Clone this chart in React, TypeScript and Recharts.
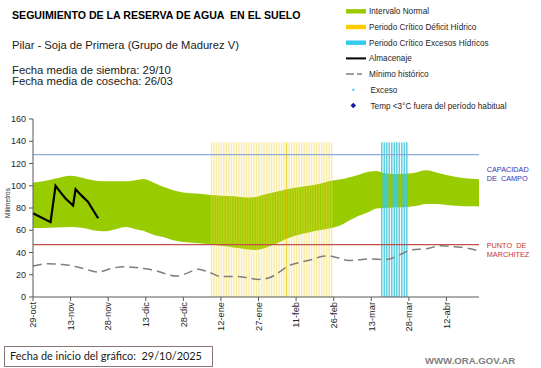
import React from "react";
import {
  Area,
  Bar,
  Cell,
  ComposedChart,
  Line,
  ReferenceLine,
  XAxis,
  YAxis,
} from "recharts";

const FONT = "'Liberation Sans', Arial, sans-serif";

// days counted from 29/10 (start of the chart)
const tickDays = [0, 15, 30, 45, 60, 75, 90, 105, 120, 135, 150, 165];
const tickLabels = [
  "29-oct",
  "13-nov",
  "28-nov",
  "13-dic",
  "28-dic",
  "12-ene",
  "27-ene",
  "11-feb",
  "26-feb",
  "13-mar",
  "28-mar",
  "12-abr",
];
const yTicks = [0, 20, 40, 60, 80, 100, 120, 140, 160];

// Intervalo normal (banda verde)
const bandDays = [
  0, 4, 9, 15, 20, 24, 28, 33, 37, 41, 44, 48, 52, 56, 60, 65, 70, 75, 80, 85,
  89, 92, 95, 99, 102, 106, 110, 114, 119, 123, 126, 130, 134, 137, 140, 144,
  148, 152, 157, 161, 165, 170, 175, 178,
];
const bandHigh = [
  103, 104, 106.5, 109, 107, 105, 104, 104, 104, 105, 106, 103, 99, 96, 94, 93,
  92, 91, 90.5, 89.5, 90, 92, 93.5, 95.5, 97, 98.6, 100, 101.5, 104.5, 105.8,
  107.5, 110, 112.5, 113.3, 111.5, 110.6, 110.8, 111.5, 113.9, 112, 109.7,
  107.5, 106.2, 105.8,
];
const bandLow = [
  62, 62, 62.5, 63, 62, 60, 59, 61, 63, 61, 59.5, 56, 54, 51, 49.5, 48.5, 47.5,
  46, 44.5, 43, 42.2, 43.5, 46, 50, 53, 56, 58, 60, 62, 64.8, 68.5, 73, 76.5,
  79.5, 80, 80.5, 80.7, 81.5, 83.7, 83.5, 82.8, 81.8, 81.5, 81.3,
];

// Mínimo histórico
const minDays = [
  0, 6, 11, 16, 21, 26, 31, 36, 41, 45, 50, 54, 57, 61, 66, 70, 75, 80, 85, 90,
  94, 98, 102, 108, 112, 115, 118, 122, 126, 130, 134, 141, 146, 151, 157, 163,
  168, 173, 178,
];
const minValues = [
  27.8, 30, 29.3, 28, 25, 22.4, 25.5, 27.3, 26.5, 25.3, 23, 20, 18.8, 21, 25,
  22.5, 18.5, 18.5, 17.5, 15.8, 17, 22, 28, 31.9, 34, 36.4, 37, 35, 32.8, 33.5,
  34.2, 33.6, 37.5, 42.4, 43.4, 46, 45.1, 44, 41.5,
];

// Almacenaje
const storageDays = [0, 7, 9, 11, 13, 16, 17, 19, 22, 24, 26];
const storageValues = [75.3, 67.3, 100, 94, 88.5, 82.2, 97, 92, 85.5, 78, 70.8];

// Periodos críticos (una columna por día)
const periodTop = 139;
const deficitDays = [
  71, 72, 73, 74, 75, 76, 77, 78, 79, 80, 81, 82, 83, 84, 85, 86, 87, 88, 89,
  90, 91, 92, 93, 94, 95, 96, 97, 98, 99, 100, 101, 102, 103, 104, 105, 106,
  107, 108, 109, 110, 111, 112, 113, 114, 115, 116, 117, 118, 119,
];
const deficitMarkDay = 101;
const excessDays = [139, 140, 141, 142, 143, 144, 145, 146, 147, 148, 149];

const capacidadCampo = 128;
const puntoMarchitez = 47;

const NB = "\u00a0";

type Row = {
  day: number;
  band?: [number, number];
  minimo?: number;
  almacenaje?: number;
  deficit?: number;
  exceso?: number;
};

const buildRows = (): Row[] => {
  const rows = new Map<number, Row>();
  const get = (d: number) => {
    const r = rows.get(d) ?? { day: d };
    rows.set(d, r);
    return r;
  };
  bandDays.forEach((d, i) => {
    get(d).band = [bandLow[i], bandHigh[i]];
  });
  minDays.forEach((d, i) => {
    get(d).minimo = minValues[i];
  });
  storageDays.forEach((d, i) => {
    get(d).almacenaje = storageValues[i];
  });
  deficitDays.forEach((d) => {
    get(d).deficit = periodTop;
  });
  excessDays.forEach((d) => {
    get(d).exceso = periodTop;
  });
  return Array.from(rows.values()).sort((a, b) => a.day - b.day);
};

const rows = buildRows();

const DateTick = (props: any) => {
  const { x, y, payload } = props;
  const label = tickLabels[tickDays.indexOf(payload.value)] ?? "";
  return (
    <text
      x={0}
      y={0}
      transform={`translate(${x},${y + 1}) rotate(-90)`}
      textAnchor="end"
      dy="0.35em"
      fontSize={9.3}
      fill="#262626"
      fontFamily={FONT}
    >
      {label}
    </text>
  );
};

const legendItems = [
  { kind: "green", label: "Intervalo Normal" },
  { kind: "yellow", label: "Periodo Crítico Déficit Hídrico" },
  { kind: "cyan", label: "Periodo Crítico Excesos Hídricos" },
  { kind: "black", label: "Almacenaje" },
  { kind: "dash", label: "Mínimo histórico" },
  { kind: "dot", label: "Exceso" },
  { kind: "diamond", label: "Temp <3°C fuera del período habitual" },
];

const LegendSwatch = ({ kind, cy }: { kind: string; cy: number }) => {
  const x0 = 346;
  const x1 = 366;
  if (kind === "green" || kind === "yellow" || kind === "cyan") {
    const fill =
      kind === "green" ? "#99cc00" : kind === "yellow" ? "#ffcc00" : "#33ccee";
    return <rect x={x0} y={cy - 2.2} width={x1 - x0} height={4.4} fill={fill} />;
  }
  if (kind === "black")
    return <line x1={x0} x2={x1} y1={cy} y2={cy} stroke="#000" strokeWidth={2} />;
  if (kind === "dash")
    return (
      <line
        x1={x0}
        x2={x1}
        y1={cy}
        y2={cy}
        stroke="#7f7f7f"
        strokeWidth={1.5}
        strokeDasharray="8 3 5 4"
      />
    );
  if (kind === "dot")
    return <rect x={352.3} y={cy - 1} width={2} height={2} fill="#33ccee" />;
  return (
    <path
      d={`M353.3 ${cy - 2.8} L356.1 ${cy} L353.3 ${cy + 2.8} L350.5 ${cy} Z`}
      fill="#1a1aa6"
    />
  );
};

export default function App() {
  return (
    <div
      style={{
        position: "absolute",
        left: 0,
        top: 0,
        width: 541,
        height: 368,
        background: "#fff",
        fontFamily: FONT,
      }}
    >
      <div style={{ position: "absolute", left: 0, top: 0 }}>
        <ComposedChart
          width={541}
          height={368}
          data={rows}
          margin={{ top: 119, right: 62, bottom: 0, left: 0 }}
        >
          <XAxis
            type="number"
            dataKey="day"
            domain={[0, 178]}
            ticks={tickDays}
            height={71}
            tickSize={4}
            tickMargin={0}
            stroke="#595959"
            tick={<DateTick />}
            interval={0}
          />
          <YAxis
            type="number"
            domain={[0, 160]}
            ticks={yTicks}
            width={33}
            tickSize={4}
            tickMargin={3}
            stroke="#595959"
            tick={{ fontSize: 9, fill: "#262626", fontFamily: FONT }}
            interval={0}
            label={{
              content: () => (
                <text
                  transform="translate(10,203) rotate(-90)"
                  textAnchor="middle"
                  fontSize={6.5}
                  fill="#262626"
                  fontFamily={FONT}
                >
                  Milímetros
                </text>
              ),
            }}
          />
          <Area
            type="monotone"
            dataKey="band"
            stroke="none"
            fill="#99cc00"
            fillOpacity={1}
            connectNulls
            dot={false}
            activeDot={false}
            isAnimationActive={false}
          />
          <Bar
            dataKey="deficit"
            stackId="periodo"
            barSize={1.5}
            isAnimationActive={false}
          >
            {rows.map((r) => (
              <Cell
                key={`d${r.day}`}
                fill={r.day === deficitMarkDay ? "#e8c400" : "#f2d43c"}
                fillOpacity={r.day === deficitMarkDay ? 0.7 : 0.45}
              />
            ))}
          </Bar>
          <Bar
            dataKey="exceso"
            stackId="periodo"
            barSize={1.2}
            fill="#3cc8de"
            fillOpacity={0.85}
            isAnimationActive={false}
          />
          <ReferenceLine y={capacidadCampo} stroke="#8eaadb" strokeWidth={1.2} />
          <ReferenceLine y={puntoMarchitez} stroke="#c0504d" strokeWidth={1.2} />
          <Line
            type="monotone"
            dataKey="minimo"
            stroke="#7f7f7f"
            strokeWidth={1.5}
            strokeDasharray="9 5"
            dot={false}
            activeDot={false}
            connectNulls
            isAnimationActive={false}
          />
          <Line
            type="linear"
            dataKey="almacenaje"
            stroke="#000"
            strokeWidth={2.2}
            dot={false}
            activeDot={false}
            connectNulls
            isAnimationActive={false}
          />
        </ComposedChart>
      </div>

      <svg
        width={541}
        height={368}
        style={{ position: "absolute", left: 0, top: 0, pointerEvents: "none" }}
        fontFamily={FONT}
      >
        <text x={12} y={19} fontSize={10.6} fontWeight="bold" fill="#000">
          {`SEGUIMIENTO DE LA RESERVA DE AGUA ${NB}EN EL SUELO`}
        </text>
        <text x={12} y={48.5} fontSize={11.2} fill="#1a1a1a">
          Pilar - Soja de Primera (Grupo de Madurez V)
        </text>
        <text x={12} y={73.8} fontSize={11.3} fill="#1a1a1a">
          Fecha media de siembra: 29/10
        </text>
        <text x={12} y={85} fontSize={11.3} fill="#1a1a1a">
          Fecha media de cosecha: 26/03
        </text>

        {legendItems.map((item, i) => {
          const cy = 11.3 + i * 15.7;
          return (
            <g key={item.label}>
              <LegendSwatch kind={item.kind} cy={cy} />
              <text
                x={item.kind === "dot" || item.kind === "diamond" ? 370.5 : 369}
                y={cy + 3}
                fontSize={8.2}
                fill="#262626"
              >
                {item.label}
              </text>
            </g>
          );
        })}

        <text x={486.7} y={172} fontSize={7.3} fill="#3838b0">
          CAPACIDAD
        </text>
        <text x={486.7} y={180.5} fontSize={7.3} fill="#3838b0">
          {`DE ${NB}CAMPO`}
        </text>
        <text x={486.7} y={248.3} fontSize={7.3} fill="#cc3333">
          {`PUNTO ${NB}DE`}
        </text>
        <text x={486.7} y={257} fontSize={7.3} fill="#cc3333">
          MARCHITEZ
        </text>

        <rect
          x={4.5}
          y={346.5}
          width={208}
          height={20}
          fill="#fff"
          stroke="#8a7676"
          strokeWidth={1}
        />
        <text
          x={10}
          y={359.5}
          fontSize={10.9}
          fill="#1a1a1a"
          fontFamily="Lato, 'Open Sans', sans-serif"
        >
          {`Fecha de inicio del gráfico: ${NB}29/10/2025`}
        </text>
        <text x={425} y={364.3} fontSize={9.6} fontWeight="bold" fill="#808080">
          WWW.ORA.GOV.AR
        </text>
      </svg>
    </div>
  );
}
